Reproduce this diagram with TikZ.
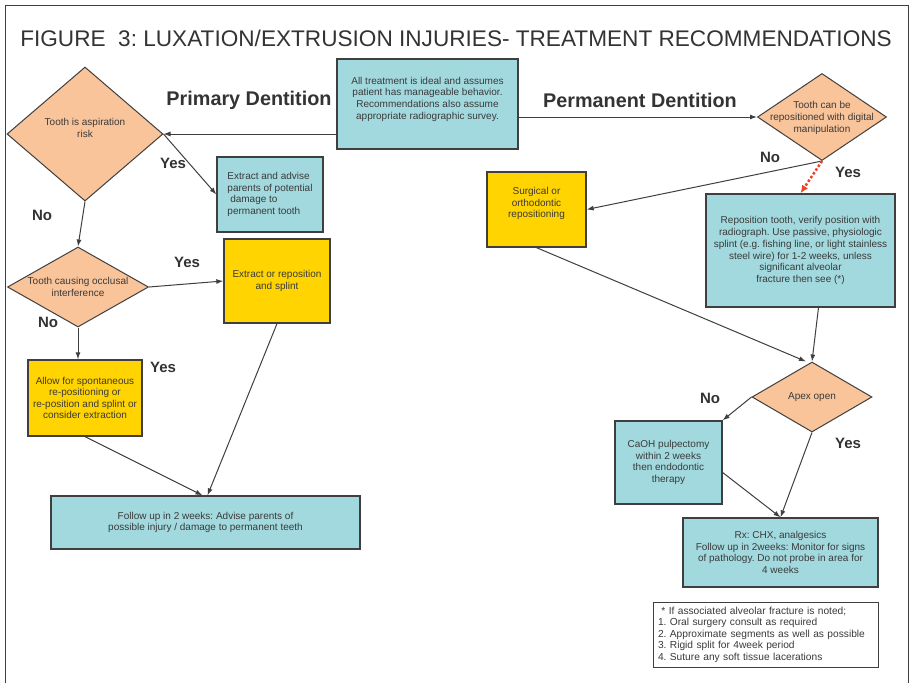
\documentclass[tikz,border=0pt]{standalone}
\usepackage{fontspec}
\setmainfont{Liberation Sans}
\usetikzlibrary{shapes.geometric,arrows.meta}
\definecolor{boxteal}{HTML}{A2D9DE}
\definecolor{dorange}{HTML}{F9C49A}
\definecolor{byellow}{HTML}{FFD400}
\definecolor{edgec}{HTML}{3F3F3F}
\definecolor{txt}{HTML}{3A3A3A}
\definecolor{dotred}{HTML}{E8452A}
\frenchspacing
\begin{document}
\begin{tikzpicture}[x=1pt,y=-1pt,
 box/.style={draw=edgec,line width=1.3pt,rectangle,inner sep=2pt,align=center,font=\frenchspacing\fontsize{10}{11.6}\selectfont,text=txt},
 tbox/.style={box,fill=boxteal},
 ybox/.style={box,fill=byellow},
 dia/.style={draw=edgec,line width=1pt,diamond,fill=dorange,inner sep=0pt},
 diatext/.style={align=center,inner sep=0pt,font=\frenchspacing\fontsize{10}{11.6}\selectfont,text=txt},
 arr/.style={draw=edgec,line width=1pt,-{Latex[length=7pt,width=5pt]}},
 yn/.style={font=\bfseries\fontsize{15}{15}\selectfont,text=black!80},
 hdr/.style={font=\bfseries\fontsize{19.8}{19.8}\selectfont,text=black!80}]
\useasboundingbox (0,0) rectangle (910,683);
\fill[white] (0,0) rectangle (910,683);
\draw[edgec,line width=1pt] (5,683) -- (5,5) -- (908,5) -- (908,683);
\node[font=\frenchspacing\fontsize{22.6}{22.6}\selectfont,text=black!80] (title) at (456,38) {FIGURE\ \ 3: LUXATION/EXTRUSION INJURIES- TREATMENT RECOMMENDATIONS};
\node[hdr] (hp) at (249,100) {Primary Dentition};
\node[hdr] (hq) at (640,100) {Permanent Dentition};
% diamonds
\node[dia,minimum width=156pt,minimum height=134pt] (d1) at (85,134) {};
\node[diatext] (d1t) at (85,128) {Tooth is aspiration\\risk};
\node[dia,minimum width=141pt,minimum height=80pt] (d3) at (78,287) {};
\node[diatext] (d3t) at (78,287) {Tooth causing occlusal\\interference};
\node[dia,minimum width=129pt,minimum height=87pt] (d2) at (822,117) {};
\node[diatext] (d2t) at (822,118) {Tooth can be\\repositioned with digital\\manipulation};
\node[dia,minimum width=120pt,minimum height=70pt] (apex) at (812,397) {};
\node[diatext] (apext) at (812,397) {Apex open};
% boxes
\node[tbox,minimum width=181pt,minimum height=90pt,text depth=12pt] (top) at (427.5,104) {All treatment is ideal and assumes\\patient has manageable behavior.\\Recommendations also assume\\appropriate radiographic survey.};
\node[tbox,minimum width=106pt,minimum height=75pt,align=left] (ext1) at (270,194.5) {Extract and advise\\parents of potential\\\ damage to\\permanent tooth};
\node[ybox,minimum width=106pt,minimum height=84pt] (ext2) at (277,281) {Extract or reposition\\and splint};
\node[ybox,minimum width=114pt,minimum height=76pt] (allow) at (85,398) {Allow for spontaneous\\re-positioning or\\re-position and splint or\\consider extraction};
\node[tbox,minimum width=309pt,minimum height=53pt] (follow) at (205.5,522.5) {Follow up in 2 weeks: Advise parents of\\possible injury / damage to permanent teeth};
\node[ybox,minimum width=99pt,minimum height=75pt,text depth=14pt] (surg) at (536.5,209.5) {Surgical or\\orthodontic\\repositioning};
\node[tbox,minimum width=189pt,minimum height=113pt,font=\frenchspacing\fontsize{10}{11.9}\selectfont] (repo) at (800.5,250.5) {Reposition tooth, verify position with\\radiograph. Use passive, physiologic\\splint (e.g. fishing line, or light stainless\\steel wire) for 1-2 weeks, unless\\significant alveolar\\fracture then see (*)};
\node[tbox,minimum width=107pt,minimum height=83pt] (caoh) at (668.5,462.5) {CaOH pulpectomy\\within 2 weeks\\then endodontic\\therapy};
\node[tbox,minimum width=195pt,minimum height=69pt] (rx) at (780.5,552.5) {Rx: CHX, analgesics\\Follow up in 2weeks: Monitor for signs\\of pathology. Do not probe in area for\\4 weeks};
\node[box,fill=white,line width=1pt,minimum width=225pt,minimum height=65pt,inner xsep=4pt,text width=215pt,align=left,font=\frenchspacing\fontsize{10.2}{11.5}\selectfont] (note) at (765.5,634.5) {\ * If associated alveolar fracture is noted;\\1. Oral surgery consult as required\\2. Approximate segments as well as possible\\3. Rigid split for 4week period\\4. Suture any soft tissue lacerations};
% labels
\node[yn] (y1) at (173,163) {Yes};
\node[yn] (n1) at (42,215) {No};
\node[yn] (y2) at (187,262) {Yes};
\node[yn] (n2) at (48,322) {No};
\node[yn] (y3) at (163,367) {Yes};
\node[yn] (n3) at (770,157) {No};
\node[yn] (y4) at (848,172) {Yes};
\node[yn] (n4) at (710,398) {No};
\node[yn] (y5) at (848,443) {Yes};
% connectors
\draw[arr] (top.west |- d1.east) -- (d1.east);
\draw[arr] (top.east |- d2.west) -- (d2.west);
\draw[arr] (d1.east) -- (ext1.west);
\draw[arr] (d1.south) -- (d3.north);
\draw[arr] (d3.east) -- (ext2.west);
\draw[arr] (d3.south) -- (d3.south |- allow.north);
\draw[arr] (allow.south) -- ([xshift=-3pt]follow.north);
\draw[arr] (ext2.south) -- ([xshift=2pt]follow.north);
\draw[arr] (d2.south) -- (surg.east);
\draw[draw=dotred,line width=2.5pt,dotted,-{Latex[length=8pt,width=7pt]}] (d2.south) -- (repo.north);
\draw[arr] (surg.south) -- ([xshift=-6pt]apex.north);
\draw[arr] ([xshift=18pt]repo.south) -- (apex.north);
\draw[arr] (apex.west) -- (caoh.north east);
\draw[arr] ([yshift=-10pt]caoh.east) -- (rx.north);
\draw[arr] (apex.south) -- (rx.north);
\end{tikzpicture}
\end{document}
